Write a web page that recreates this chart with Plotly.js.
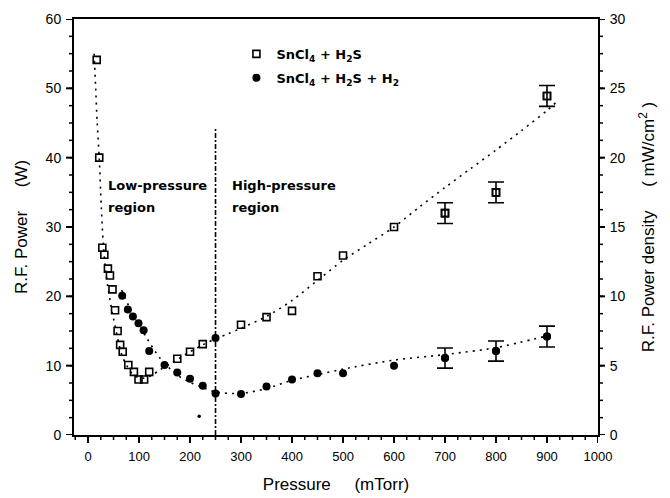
<!DOCTYPE html>
<html>
<head>
<meta charset="utf-8">
<script src="https://cdn.plot.ly/plotly-3.0.1.min.js"></script>
<style>html,body{margin:0;padding:0;background:#fff;}#chart{width:670px;height:498px;}</style>
</head>
<body>
<div id="chart"></div>
<script>
// ---- data ----
// SnCl4 + H2S (open squares)
var sqX = [17, 22, 28, 32, 39, 43, 48, 53, 58, 63, 68, 79, 90, 99, 110, 120, 175, 200, 225, 300, 350, 400, 450, 500, 600, 700, 800, 900];
var sqY = [54.1, 40.0, 27.0, 26.0, 24.0, 23.0, 21.0, 18.0, 15.0, 13.0, 12.0, 10.1, 9.1, 8.0, 8.0, 9.1, 11.0, 12.0, 13.1, 15.9, 17.0, 17.9, 22.9, 25.9, 30.0, 32.0, 35.0, 48.9];
var sqErr = [null, null, null, null, null, null, null, null, null, null, null, null, null, null, null, null, null, null, null, null, null, null, null, null, null, 1.5, 1.5, 1.5];
// SnCl4 + H2S + H2 (filled circles)
var ciX = [67, 78, 88, 99, 109, 120, 150, 175, 200, 225, 250, 250, 300, 350, 400, 450, 500, 600, 700, 800, 900];
var ciY = [20.1, 18.1, 17.1, 16.1, 15.1, 12.1, 10.1, 9.0, 8.1, 7.1, 14.0, 6.0, 5.9, 7.0, 8.0, 8.9, 8.9, 10.0, 11.1, 12.1, 14.2];
var ciErr = [null, null, null, null, null, null, null, null, null, null, null, null, null, null, null, null, null, null, 1.45, 1.45, 1.5];
// dotted guide curves
var sqFitX = [12, 15, 18, 22, 26, 30, 36, 43, 50, 58, 66, 76, 86, 98, 110, 125, 141, 160, 180, 200, 225, 250, 275, 300, 350, 400, 450, 500, 550, 600, 650, 700, 750, 800, 850, 900, 918];
var sqFitY = [55, 50, 45, 40, 33, 27.5, 22.8, 19.5, 16.8, 14, 11.6, 10, 8.9, 8.3, 8.2, 8.6, 9.4, 10.2, 11.1, 12, 13, 13.9, 14.6, 15.4, 17.1, 19.4, 22.3, 25.2, 27.6, 30.0, 32.9, 35.7, 38.4, 41.1, 43.9, 46.8, 48];
var ciFitX = [66, 80, 95, 115, 141, 174, 200, 220, 250, 300, 350, 400, 450, 500, 600, 700, 800, 900];
var ciFitY = [20.9, 18.6, 16.6, 14.0, 11.1, 8.7, 7.6, 7.0, 6.2, 6.0, 6.7, 7.9, 8.7, 9.5, 10.8, 11.6, 12.6, 14.3];
// stray mark near the bottom
var strayX = [218];
var strayY = [2.7];
// region boundary
var boundaryX = [250, 250];
var boundaryY = [0, 44.3];
var xTicks = [0, 100, 200, 300, 400, 500, 600, 700, 800, 900, 1000];

function withErr(xs, ys, es) {
  var o = {x: [], y: [], e: []};
  for (var i = 0; i < xs.length; i++) {
    if (es[i] !== null) { o.x.push(xs[i]); o.y.push(ys[i]); o.e.push(es[i]); }
  }
  return o;
}
var sqE = withErr(sqX, sqY, sqErr);
var ciE = withErr(ciX, ciY, ciErr);

var W = 670, H = 498, M = {l: 74, r: 72, t: 19, b: 63};
var plotW = W - M.l - M.r, plotH = H - M.t - M.b;
var xRange = [-27.5, 1000];

// axis tick marks drawn as shapes (major + minor)
function tickList(lo, hi, step) { var a = []; for (var v = lo; v <= hi + 1e-9; v += step) a.push(+v.toFixed(4)); return a; }
var shapes = [];
function addX(vals, len, w) {
  vals.forEach(function (v) {
    if (v < xRange[0] || v > xRange[1]) return;
    shapes.push({type: 'line', xref: 'x', yref: 'paper', x0: v, x1: v, y0: 0, y1: -len / plotH, line: {color: '#000', width: w}});
  });
}
function addY(vals, ref, side, len, w) {
  vals.forEach(function (v) {
    var base = side === 'left' ? 0 : 1, d = side === 'left' ? -len / plotW : len / plotW;
    shapes.push({type: 'line', xref: 'paper', yref: ref, x0: base, x1: base + d, y0: v, y1: v, line: {color: '#000', width: w}});
  });
}
addX(tickList(-25, 1000, 25), 5, 1.5);
addX(xTicks, 8, 2);
addY(tickList(0, 60, 2.5), 'y', 'left', 5, 1.5);
addY(tickList(0, 60, 10), 'y', 'left', 8, 2);
addY(tickList(0, 30, 1.25), 'y2', 'right', 5, 1.5);
addY(tickList(0, 30, 5), 'y2', 'right', 7, 2);

var txtFont = {family: 'DejaVu Sans', size: 13, color: '#000', weight: 'bold'};
var fitLine = {color: '#000', width: 1.6, dash: '2px,5px', shape: 'spline', smoothing: 0.8};
var sqMarker = {symbol: 'square-open', size: 7, color: '#000', line: {width: 1.6, color: '#000'}};
var ciMarker = {symbol: 'circle', size: 8, color: '#000'};

var traces = [
  {x: sqFitX, y: sqFitY, mode: 'lines', line: fitLine, showlegend: false, hoverinfo: 'skip'},
  {x: ciFitX, y: ciFitY, mode: 'lines', line: fitLine, showlegend: false, hoverinfo: 'skip'},
  {x: boundaryX, y: boundaryY, mode: 'lines', line: {color: '#000', width: 1.6, dash: '5px,2px,2px,2px'}, showlegend: false, hoverinfo: 'skip'},
  {x: sqE.x, y: sqE.y, mode: 'markers', marker: sqMarker, showlegend: false, hoverinfo: 'skip',
   error_y: {type: 'data', array: sqE.e, visible: true, color: '#000', thickness: 1.6, width: 8}},
  {x: ciE.x, y: ciE.y, mode: 'markers', marker: ciMarker, showlegend: false, hoverinfo: 'skip',
   error_y: {type: 'data', array: ciE.e, visible: true, color: '#000', thickness: 1.6, width: 8}},
  {x: sqX, y: sqY, mode: 'markers', name: '<b>SnCl<sub>4</sub> + H<sub>2</sub>S</b>', legendgroup: 'a', marker: sqMarker},
  {x: ciX, y: ciY, mode: 'markers', name: '<b>SnCl<sub>4</sub> + H<sub>2</sub>S + H<sub>2</sub></b>', legendgroup: 'b', marker: ciMarker},
  {x: strayX, y: strayY, mode: 'markers', marker: {symbol: 'circle', size: 3.5, color: '#000'}, showlegend: false, hoverinfo: 'skip'},
  {x: [0], y: [0], yaxis: 'y2', mode: 'markers', marker: {opacity: 0}, showlegend: false, hoverinfo: 'skip'}
];

var tickF = {family: 'Liberation Sans, Arial, sans-serif', size: 14, color: '#000'};
var NOTICK = 'rgba(0,0,0,0)';

var layout = {
  width: W, height: H,
  margin: M,
  paper_bgcolor: '#fff', plot_bgcolor: '#fff',
  font: {family: 'Liberation Sans, Arial, sans-serif', color: '#000', size: 14},
  showlegend: true,
  legend: {x: 0.31, y: 0.952, xanchor: 'left', yanchor: 'top', font: txtFont, bgcolor: 'rgba(0,0,0,0)',
           traceorder: 'grouped', tracegroupgap: 4, itemwidth: 30},
  shapes: shapes,
  xaxis: {range: xRange, tickvals: xTicks, ticktext: xTicks.map(String), ticks: 'outside', ticklen: 8, tickwidth: 1, tickcolor: NOTICK,
          showline: true, linewidth: 2, linecolor: '#000', mirror: true, showgrid: false, zeroline: false,
          tickfont: {family: tickF.family, size: 13, color: '#000'}, fixedrange: true,
          title: {text: 'Pressure\u00a0\u00a0\u00a0\u00a0\u00a0(mTorr)', font: {size: 17, color: '#000'}, standoff: 16}},
  yaxis: {range: [0, 60], dtick: 10, tick0: 0, ticks: 'outside', ticklen: 8, tickwidth: 1, tickcolor: NOTICK,
          showline: true, linewidth: 2, linecolor: '#000', showgrid: false, zeroline: false,
          tickfont: tickF, fixedrange: true,
          title: {text: 'R.F. Power\u00a0\u00a0\u00a0\u00a0\u00a0(W)', font: {size: 17, color: '#000'}, standoff: 14}},
  yaxis2: {range: [0, 30], dtick: 5, tick0: 0, overlaying: 'y', side: 'right', ticks: 'outside', ticklen: 7, tickwidth: 1, tickcolor: NOTICK,
           showline: true, linewidth: 2, linecolor: '#000', showgrid: false, zeroline: false,
           tickfont: tickF, fixedrange: true,
           title: {text: 'R.F. Power density\u00a0\u00a0\u00a0\u00a0\u00a0( mW/cm<sup>2</sup> )', font: {size: 17, color: '#000'}, standoff: 18}},
  annotations: [
    {x: 35, y: 36.0, xref: 'x', yref: 'y', text: 'Low-pressure', showarrow: false, xanchor: 'left', yanchor: 'middle', font: txtFont},
    {x: 35, y: 32.8, xref: 'x', yref: 'y', text: 'region', showarrow: false, xanchor: 'left', yanchor: 'middle', font: txtFont},
    {x: 278, y: 36.0, xref: 'x', yref: 'y', text: 'High-pressure', showarrow: false, xanchor: 'left', yanchor: 'middle', font: txtFont},
    {x: 278, y: 32.8, xref: 'x', yref: 'y', text: 'region', showarrow: false, xanchor: 'left', yanchor: 'middle', font: txtFont}
  ]
};

Plotly.newPlot('chart', traces, layout, {staticPlot: true, displayModeBar: false});
</script>
</body>
</html>
